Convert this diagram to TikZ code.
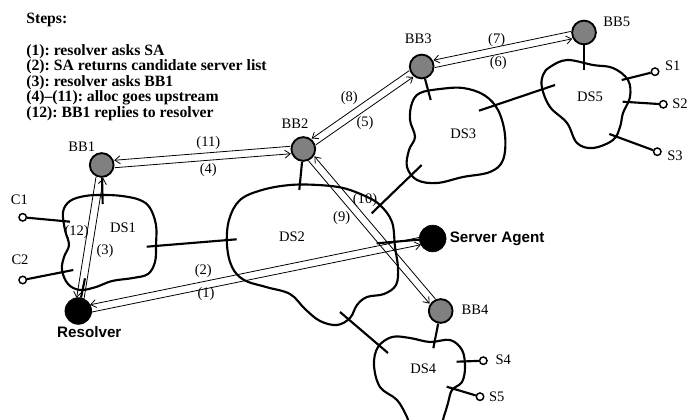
\documentclass[tikz,border=0pt]{standalone}
\usepackage{fontspec}
\setmainfont{Liberation Serif}
\newfontfamily\sansfam{Liberation Sans}
\usetikzlibrary{calc,arrows.meta}
\definecolor{bbgray}{RGB}{128,128,128}
\newcommand{\pline}[2]{\draw[arr] ($(#1)!9.6pt!(#2)!2.8pt!-90:(#2)$) -- ($(#2)!9.6pt!(#1)!2.8pt!90:(#1)$);}
\frenchspacing
\tikzset{
 bb/.style={circle, draw=black, fill=bbgray, line width=1.4pt, minimum size=17.8pt, inner sep=0},
 hostblk/.style={circle, draw=black, fill=black, line width=0.5pt, minimum size=20pt, inner sep=0},
 term/.style={circle, draw=black, fill=white, line width=1.1pt, minimum size=5.6pt, inner sep=0},
 lbl/.style={font=\fontsize{10.9}{12}\selectfont, inner sep=0},
 steptext/.style={font=\frenchspacing\bfseries\fontsize{11.8}{12}\selectfont, inner sep=0, anchor=base west},
 bigl/.style={font=\sansfam\bfseries\fontsize{11.4}{12}\selectfont, inner sep=0},
 dsline/.style={line width=1.6pt, line join=round},
 stub/.style={line width=1.6pt},
 arr/.style={line width=0.6pt, -{Straight Barb[length=4pt,width=6pt]}},
}
\begin{document}
\begin{tikzpicture}[x=0.75pt,y=-0.75pt]
\useasboundingbox (0,0) rectangle (691,420);
\clip (0,0) rectangle (691,420);

% steps text
\node[steptext] (stepshead) at (26,23.3) {Steps:};
\node[steptext] (st1) at (26,55.2) {(1): resolver asks SA};
\node[steptext] (st2) at (26,70.7) {(2): SA returns candidate server list};
\node[steptext] (st3) at (26,86.2) {(3): resolver asks BB1};
\node[steptext] (st4) at (26,101.7) {(4)–(11): alloc goes upstream};
\node[steptext] (st5) at (26,117.2) {(12): BB1 replies to resolver};

% domains
\draw[dsline] plot[smooth cycle, tension=0.6] coordinates {(63,212) (70,201) (85,196) (103,195) (122,196) (140,200) (150,208) (156,225) (156,245) (155,262) (148,274) (133,278) (112,281) (96,287) (80,290) (68,284) (62,270) (64,257) (69,245) (65,230)};
\draw[dsline] plot[smooth cycle, tension=0.6] coordinates {(240,200) (262,190) (290,185) (318,185) (343,188) (365,196) (380,205) (392,222) (395,247) (398,268) (396,285) (384,294) (367,297) (357,305) (350,318) (337,325) (320,321) (305,309) (290,294) (266,287) (244,280) (232,267) (227,245) (229,220)};
\draw[dsline] plot[smooth cycle, tension=0.6] coordinates {(420,93) (440,89) (463,88) (484,95) (498,110) (505,135) (503,160) (490,172) (463,177) (437,183) (417,180) (407,167) (409,150) (415,137) (410,120) (412,103)};
\draw[dsline] plot[smooth cycle, tension=0.6] coordinates {(550,67) (567,60) (593,65) (613,68) (628,80) (630,97) (623,113) (620,127) (613,140) (593,148) (577,143) (567,123) (550,107) (542,88) (543,75)};
\draw[dsline] plot[smooth cycle, tension=0.6] coordinates {(378,347) (392,337) (410,338) (430,342) (450,340) (462,350) (465,367) (462,382) (452,390) (448,403) (444,416) (438,430) (414,432) (407,417) (397,400) (380,387) (374,365)};

% domain labels
\node[lbl] (ds1) at (123,228) {DS1};
\node[lbl] (ds2) at (292,237) {DS2};
\node[lbl] (ds3) at (463.3,133.3) {DS3};
\node[lbl] (ds4) at (423.3,368.3) {DS4};
\node[lbl] (ds5) at (590,96.7) {DS5};

% inter-domain links
\coordinate (l12a) at (146.7,246.7); \coordinate (l12b) at (236.7,239.3);
\coordinate (l23a) at (371.7,213.3); \coordinate (l23b) at (421.7,165);
\coordinate (l35a) at (479,110.7); \coordinate (l35b) at (555,85);
\coordinate (l24a) at (340,312); \coordinate (l24b) at (388,353);
\draw[stub] (l12a) -- (l12b);
\draw[stub] (l23a) -- (l23b);
\draw[stub] (l35a) -- (l35b);
\draw[stub] (l24a) -- (l24b);

% stub endpoints
\coordinate (pBB1) at (102.7,204);
\coordinate (pBB2) at (299.3,190);
\coordinate (pBB3) at (430.7,100);
\coordinate (pBB4) at (433.3,348.3);
\coordinate (pBB5) at (584,70);
\coordinate (pC1) at (70,221.7);
\coordinate (pC2) at (73.3,270);
\coordinate (pRes) at (85,278.3);
\coordinate (pS1) at (621.7,80);
\coordinate (pS2) at (622.7,101.7);
\coordinate (pS3) at (609.3,134);
\coordinate (pS4) at (456.7,361.7);
\coordinate (pS5) at (446.7,386.7);
\coordinate (pSA) at (376.7,243.3);

% nodes
\node[bb] (BB1) at (101.7,165) {};
\node[bb] (BB2) at (303.3,149) {};
\node[bb] (BB3) at (421.7,66.5) {};
\node[bb] (BB4) at (440.7,311) {};
\node[bb] (BB5) at (584,32.5) {};
\node[hostblk] (Res) at (78.3,311) {};
\node[hostblk] (SA) at (432.7,238.5) {};
\node[term] (C1) at (22.7,217.3) {};
\node[term] (C2) at (22.7,280) {};
\node[term] (S1) at (655,71.7) {};
\node[term] (S2) at (663.3,104.3) {};
\node[term] (S3) at (657.3,151.7) {};
\node[term] (S4) at (483.3,360.7) {};
\node[term] (S5) at (480,396.7) {};

% stubs
\draw[stub] (BB1) -- (pBB1);
\draw[stub] (BB2) -- (pBB2);
\draw[stub] (BB3) -- (pBB3);
\draw[stub] (BB4) -- (pBB4);
\draw[stub] (BB5) -- (pBB5);
\draw[stub] (C1) -- (pC1);
\draw[stub] (C2) -- (pC2);
\draw[stub] (Res) -- (pRes);
\draw[stub] (S1) -- (pS1);
\draw[stub] (S2) -- (pS2);
\draw[stub] (S3) -- (pS3);
\draw[stub] (S4) -- (pS4);
\draw[stub] (S5) -- (pS5);
\draw[stub] (SA) -- (pSA);

% node labels
\node[lbl] (tBB1) at (81.7,146.7) {BB1};
\node[lbl] (tBB2) at (295,124) {BB2};
\node[lbl] (tBB3) at (418.3,38.3) {BB3};
\node[lbl] (tBB4) at (475,309.3) {BB4};
\node[lbl] (tBB5) at (616.7,21.7) {BB5};
\node[lbl] (tC1) at (19.3,200) {C1};
\node[lbl] (tC2) at (20,260) {C2};
\node[lbl] (tS1) at (672.7,66) {S1};
\node[lbl] (tS2) at (680,103.3) {S2};
\node[lbl] (tS3) at (675,155.7) {S3};
\node[lbl] (tS4) at (503.3,360) {S4};
\node[lbl] (tS5) at (496.7,396.7) {S5};
\node[bigl] (tRes) at (89.3,331.7) {Resolver};
\node[bigl, anchor=west] (tSA) at (449.5,239) {Server Agent};

% message arrows
\pline{Res}{SA}   % (1)
\pline{SA}{Res}   % (2)
\pline{Res}{BB1}  % (3)
\pline{BB1}{BB2}  % (4)
\pline{BB2}{BB3}  % (5)
\pline{BB3}{BB5}  % (6)
\pline{BB5}{BB3}  % (7)
\pline{BB3}{BB2}  % (8)
\pline{BB2}{BB4}  % (9)
\pline{BB4}{BB2}  % (10)
\pline{BB2}{BB1}  % (11)
\pline{BB1}{Res}  % (12)

% message labels
\node[lbl] (m1) at (206,294) {(1)};
\node[lbl] (m2) at (203.3,270.7) {(2)};
\node[lbl] (m3) at (105,250.7) {(3)};
\node[lbl] (m4) at (208.3,170) {(4)};
\node[lbl] (m5) at (365,122.7) {(5)};
\node[lbl] (m6) at (498.3,63.3) {(6)};
\node[lbl] (m7) at (496.7,40) {(7)};
\node[lbl] (m8) at (349.3,98.3) {(8)};
\node[lbl] (m9) at (341.7,218.3) {(9)};
\node[lbl] (m10) at (365,200) {(10)};
\node[lbl] (m11) at (208.3,143.3) {(11)};
\node[lbl] (m12) at (76.7,231.7) {(12)};
\end{tikzpicture}
\end{document}
